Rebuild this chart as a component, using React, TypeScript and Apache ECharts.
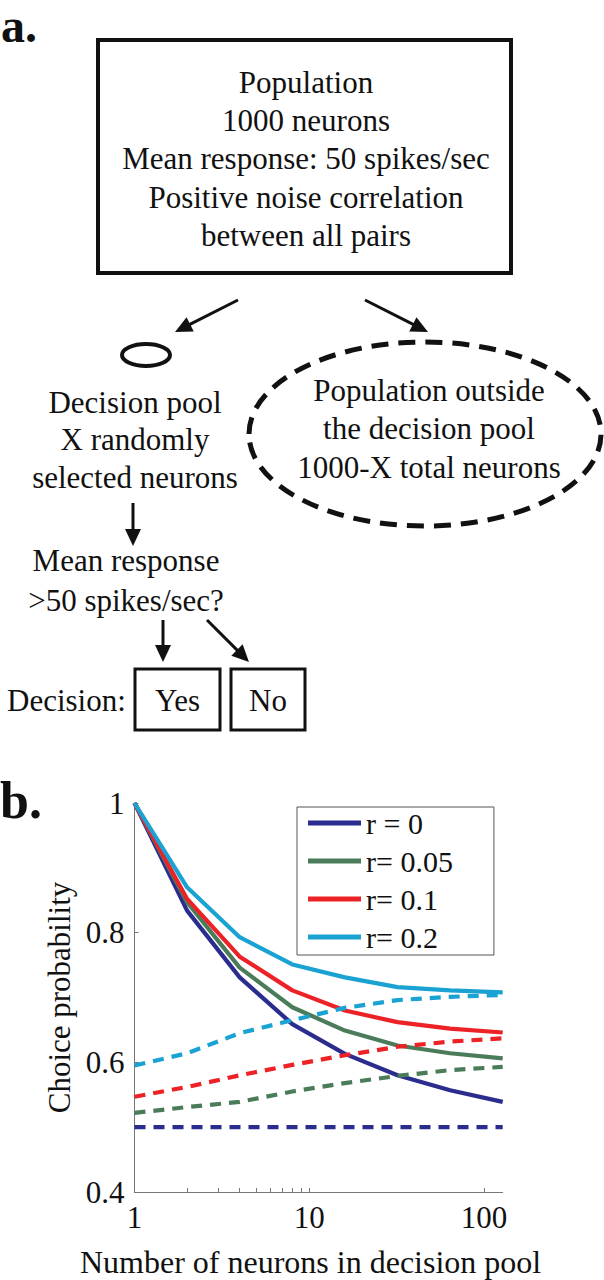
import React, { useEffect, useRef } from 'react';
import * as echarts from 'echarts';

// ---- data ----
const poolSizes = [1, 2, 4, 8, 16, 32, 64, 128];
const seriesNames = ['r = 0', 'r= 0.05', 'r= 0.1', 'r= 0.2'];
const seriesColors = ['#2b2d8e', '#4a7c5a', '#ec2227', '#1aa3d2'];
// choice probability of neurons inside the decision pool (solid)
const cpInsideR0 = [1.0, 0.834, 0.731, 0.659, 0.613, 0.58, 0.557, 0.539];
const cpInsideR005 = [1.0, 0.847, 0.746, 0.685, 0.649, 0.626, 0.614, 0.606];
const cpInsideR01 = [1.0, 0.852, 0.763, 0.711, 0.68, 0.662, 0.652, 0.646];
const cpInsideR02 = [1.0, 0.87, 0.793, 0.751, 0.731, 0.716, 0.711, 0.708];
// choice probability of neurons outside the decision pool (dashed)
const cpOutsideR0 = [0.5, 0.5, 0.5, 0.5, 0.5, 0.5, 0.5, 0.5];
const cpOutsideR005 = [0.522, 0.531, 0.539, 0.555, 0.568, 0.579, 0.588, 0.593];
const cpOutsideR01 = [0.547, 0.562, 0.58, 0.596, 0.611, 0.624, 0.632, 0.637];
const cpOutsideR02 = [0.595, 0.614, 0.645, 0.665, 0.684, 0.696, 0.701, 0.704];
const xLabelValues = [1, 10, 100];
const xTickValues = [1, 2, 3, 4, 5, 6, 7, 8, 9, 10, 100];
const yMin = 0.4;
const yMax = 1;
const yInterval = 0.2;

const insideSets = [cpInsideR0, cpInsideR005, cpInsideR01, cpInsideR02];
const outsideSets = [cpOutsideR0, cpOutsideR005, cpOutsideR01, cpOutsideR02];

const FONT = '"Liberation Serif", "Times New Roman", Times, serif';

function txt(text: string, x: number, y: number, size = 31, align = 'center', weight = 'normal', lineHeight?: number) {
  const style: any = {
    text,
    fontSize: size,
    fontFamily: FONT,
    fontWeight: weight,
    fill: '#111',
    align,
    textAlign: align,
    verticalAlign: 'middle',
    textVerticalAlign: 'middle',
  };
  if (lineHeight) style.lineHeight = lineHeight;
  return { type: 'text', x, y, style };
}

function arrow(x1: number, y1: number, x2: number, y2: number) {
  const dx = x2 - x1;
  const dy = y2 - y1;
  const L = Math.hypot(dx, dy);
  const ux = dx / L;
  const uy = dy / L;
  const hl = 17;
  const hw = 8;
  const bx = x2 - ux * hl;
  const by = y2 - uy * hl;
  return [
    { type: 'line', shape: { x1, y1, x2: bx + ux * 2, y2: by + uy * 2 }, style: { stroke: '#111', lineWidth: 3 } },
    {
      type: 'polygon',
      shape: { points: [[x2, y2], [bx - uy * hw, by + ux * hw], [bx + uy * hw, by - ux * hw]] },
      style: { fill: '#111' },
    },
  ];
}

export default function App() {
  const ref = useRef<HTMLDivElement>(null);

  useEffect(() => {
    if (!ref.current) return;
    const chart = echarts.init(ref.current, null, { renderer: 'svg' });

    const series: any[] = [];
    insideSets.forEach((vals, i) => {
      series.push({
        name: seriesNames[i],
        type: 'line',
        data: poolSizes.map((x, j) => [x, vals[j]]),
        symbol: 'none',
        lineStyle: { color: seriesColors[i], width: 4.2 },
        itemStyle: { color: seriesColors[i] },
        z: 2,
      });
    });
    outsideSets.forEach((vals, i) => {
      series.push({
        name: seriesNames[i] + ' (outside pool)',
        type: 'line',
        data: poolSizes.map((x, j) => [x, vals[j]]),
        symbol: 'none',
        lineStyle: { color: seriesColors[i], width: 4.2, type: [11, 8] },
        itemStyle: { color: seriesColors[i] },
        z: 3,
      });
    });

    const graphics: any[] = [
      // panel labels
      txt('a.', 1, 25, 48, 'left', 'bold', 48),
      txt('b.', 0, 800, 52, 'left', 'bold', 40),
      // top box
      {
        type: 'rect',
        shape: { x: 98, y: 40, width: 413, height: 233 },
        style: { fill: 'none', stroke: '#111', lineWidth: 4 },
      },
      txt('Population', 306, 82),
      txt('1000 neurons', 306, 120),
      txt('Mean response: 50 spikes/sec', 306, 158),
      txt('Positive noise correlation', 306, 197),
      txt('between all pairs', 306, 235),
      ...arrow(238, 300, 175, 332),
      ...arrow(365, 300, 428, 332),
      // decision pool
      {
        type: 'ellipse',
        shape: { cx: 146, cy: 355, rx: 24, ry: 11 },
        style: { fill: 'none', stroke: '#111', lineWidth: 4 },
      },
      txt('Decision pool', 135, 402),
      txt('X randomly', 135, 439),
      txt('selected neurons', 135, 477),
      ...arrow(133, 503, 133, 546),
      txt('Mean response', 126, 560),
      txt('>50 spikes/sec?', 126, 600),
      ...arrow(163, 620, 163, 662),
      ...arrow(207, 620, 249, 662),
      txt('Decision:', 7, 700, 31, 'left'),
      {
        type: 'rect',
        shape: { x: 135, y: 669, width: 85, height: 61 },
        style: { fill: 'none', stroke: '#111', lineWidth: 3 },
      },
      txt('Yes', 177.5, 700),
      {
        type: 'rect',
        shape: { x: 231, y: 669, width: 74, height: 61 },
        style: { fill: 'none', stroke: '#111', lineWidth: 3 },
      },
      txt('No', 268, 700),
      // outside population
      {
        type: 'ellipse',
        shape: { cx: 425, cy: 434, rx: 176, ry: 92 },
        style: { fill: 'none', stroke: '#111', lineWidth: 5, lineDash: [17, 10] },
      },
      txt('Population outside', 429, 390),
      txt('the decision pool', 429, 428),
      txt('1000-X total neurons', 429, 467),
    ];

    chart.setOption({
      animation: false,
      backgroundColor: '#fff',
      grid: { left: 134.5, right: 101.3, top: 803, bottom: 88, containLabel: false },
      legend: {
        data: seriesNames,
        orient: 'vertical',
        left: 297,
        top: 807,
        icon: 'rect',
        itemWidth: 53,
        itemHeight: 5,
        itemGap: 8,
        padding: [1, 41, 3, 11],
        borderColor: '#555',
        borderWidth: 1,
        backgroundColor: '#fff',
        textStyle: { fontSize: 30, lineHeight: 30, fontFamily: FONT, color: '#111' },
      },
      xAxis: {
        type: 'log',
        logBase: 10,
        min: 1,
        max: 128,
        name: 'Number of neurons in decision pool',
        nameLocation: 'middle',
        nameGap: 54,
        nameTextStyle: { fontSize: 32, fontFamily: FONT, color: '#111', padding: [0, 16, 0, 0] },
        axisLine: { lineStyle: { color: '#777', width: 1 } },
        axisTick: { inside: true, length: 4, customValues: xTickValues, lineStyle: { color: '#777' } },
        axisLabel: {
          customValues: xLabelValues,
          fontSize: 31,
          fontFamily: FONT,
          color: '#111',
          margin: 10,
        },
        splitLine: { show: false },
        minorTick: { show: false },
      },
      yAxis: {
        type: 'value',
        min: yMin,
        max: yMax,
        interval: yInterval,
        name: 'Choice probability',
        nameLocation: 'middle',
        nameRotate: 90,
        nameGap: 59,
        nameTextStyle: { fontSize: 31, fontFamily: FONT, color: '#111' },
        axisLine: { show: true, lineStyle: { color: '#777', width: 1 } },
        axisTick: { show: true, inside: true, length: 4, lineStyle: { color: '#777' } },
        axisLabel: {
          fontSize: 31,
          fontFamily: FONT,
          color: '#111',
          margin: 10,
          formatter: (v: number) => String(Math.round(v * 10) / 10),
        },
        splitLine: { show: false },
      },
      series,
      graphic: graphics,
    });

    return () => chart.dispose();
  }, []);

  return (
    <div
      ref={ref}
      style={{ position: 'absolute', left: 0, top: 0, width: 604, height: 1280, background: '#fff' }}
    />
  );
}
